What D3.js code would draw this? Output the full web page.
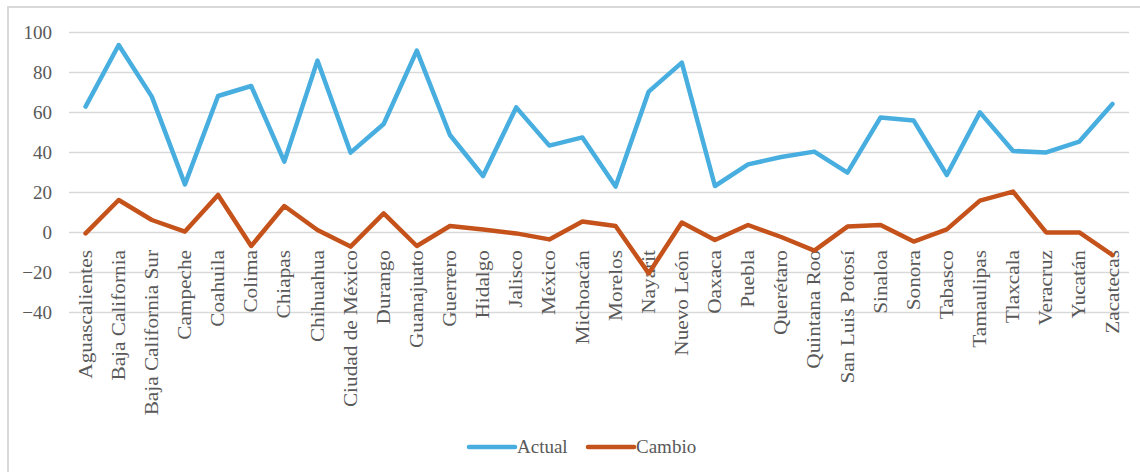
<!DOCTYPE html>
<html>
<head>
<meta charset="utf-8">
<script src="https://cdn.jsdelivr.net/npm/d3@7"></script>
<style>
  html, body { margin: 0; padding: 0; background: #fff; }
  svg { display: block; }
  svg text { font-family: "Liberation Serif", "DejaVu Serif", serif !important; }
</style>
</head>
<body>
<svg id="chart" width="1140" height="472"></svg>
<script>
// States of Mexico
const estados = [
  "Aguascalientes", "Baja California", "Baja California Sur", "Campeche", "Coahuila",
  "Colima", "Chiapas", "Chihuahua", "Ciudad de México", "Durango", "Guanajuato",
  "Guerrero", "Hidalgo", "Jalisco", "México", "Michoacán", "Morelos", "Nayarit",
  "Nuevo León", "Oaxaca", "Puebla", "Querétaro", "Quintana Roo", "San Luis Potosí",
  "Sinaloa", "Sonora", "Tabasco", "Tamaulipas", "Tlaxcala", "Veracruz", "Yucatán", "Zacatecas"
];

// Current value per state
const actual = [
  62.7, 93.5, 67.7, 23.8, 68.0, 73.0, 35.2, 85.7, 39.7, 54.0, 90.7,
  48.5, 28.0, 62.3, 43.2, 47.3, 22.7, 70.2, 84.7, 23.0, 33.8, 37.5,
  40.2, 29.7, 57.3, 55.7, 28.5, 59.8, 40.5, 39.8, 45.2, 64.0
];

// Change per state
const cambio = [
  -0.7, 16.0, 6.0, 0.2, 18.5, -7.0, 13.0, 1.0, -7.3, 9.3, -7.0,
  3.0, 1.3, -0.7, -3.7, 5.2, 3.0, -20.7, 4.7, -4.0, 3.5, -2.5,
  -9.3, 2.7, 3.5, -4.8, 1.3, 15.7, 20.2, -0.2, -0.2, -11.5
];

const yTicks = [-40, -20, 0, 20, 40, 60, 80, 100];

const series = [
  { name: "Actual", values: actual, color: "#47AEDF" },
  { name: "Cambio", values: cambio, color: "#C4521A" }
];

const svg = d3.select("#chart");
const textColor = "#595959";
const gridColor = "#d9d9d9";

// Chart area frame
svg.append("rect")
  .attr("x", 8).attr("y", 7)
  .attr("width", 1300).attr("height", 600)
  .attr("fill", "none")
  .attr("stroke", gridColor)
  .attr("stroke-width", 2);

const plot = { left: 69, right: 1129, top: 32, bottom: 312 };

const x = d3.scalePoint()
  .domain(estados)
  .range([plot.left, plot.right])
  .padding(0.5);

const y = d3.scaleLinear()
  .domain([-40, 100])
  .range([plot.bottom, plot.top]);

// Horizontal gridlines with value labels
const yAxis = d3.axisLeft(y)
  .tickValues(yTicks)
  .tickSize(-(plot.right - plot.left))
  .tickPadding(17)
  .tickFormat(d3.format("d"));

const gy = svg.append("g")
  .attr("transform", `translate(${plot.left},0)`)
  .call(yAxis);
gy.select(".domain").remove();
gy.selectAll(".tick line")
  .attr("stroke", gridColor)
  .attr("stroke-width", 1.6);
gy.selectAll(".tick text")
  .attr("fill", textColor)
  .attr("font-size", 19);

// Category labels, rotated, hanging below the plot's zero line
const gx = svg.append("g").attr("class", "cats");
gx.selectAll("text")
  .data(estados)
  .join("text")
  .attr("transform", d => `translate(${x(d)},250) rotate(-90) scale(1.12,1)`)
  .attr("text-anchor", "end")
  .attr("dy", "0.32em")
  .attr("fill", textColor)
  .attr("font-size", 19)
  .text(d => d);

// Series lines
const line = d3.line()
  .x((d, i) => x(estados[i]))
  .y(d => y(d));

svg.append("g")
  .selectAll("path")
  .data(series)
  .join("path")
  .attr("d", s => line(s.values))
  .attr("fill", "none")
  .attr("stroke", s => s.color)
  .attr("stroke-width", 4.5)
  .attr("stroke-linejoin", "round")
  .attr("stroke-linecap", "round");

// Legend
const legendItems = [
  { name: "Actual", color: series[0].color, x0: 469 },
  { name: "Cambio", color: series[1].color, x0: 588 }
];
const lg = svg.append("g").attr("class", "legend");
const li = lg.selectAll("g").data(legendItems).join("g")
  .attr("transform", d => `translate(${d.x0},447)`);
li.append("line")
  .attr("x1", 0).attr("x2", 46)
  .attr("y1", 0).attr("y2", 0)
  .attr("stroke", d => d.color)
  .attr("stroke-width", 4.5)
  .attr("stroke-linecap", "round");
li.append("text")
  .attr("x", 48)
  .attr("dy", "0.33em")
  .attr("fill", textColor)
  .attr("font-size", 19)
  .text(d => d.name);
</script>
</body>
</html>
